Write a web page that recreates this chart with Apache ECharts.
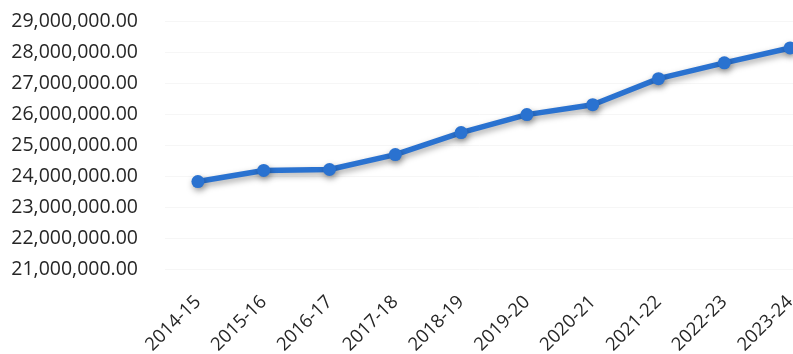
<!DOCTYPE html>
<html><head><meta charset="utf-8">
<script src="https://cdn.jsdelivr.net/npm/echarts@6/dist/echarts.min.js"></script>
<style>html,body{margin:0;padding:0;background:#fff}#c{width:793px;height:354px}</style>
</head><body><div id="c"></div>
<script>
const categories = ['2014-15','2015-16','2016-17','2017-18','2018-19','2019-20','2020-21','2021-22','2022-23','2023-24'];
const values = [23820000, 24180000, 24210000, 24690000, 25400000, 25980000, 26300000, 27140000, 27650000, 28130000];
const yMin = 21000000, yMax = 29000000, yStep = 1000000;

const chart = echarts.init(document.getElementById('c'), null, {renderer:'canvas'});
const fmt = v => v.toLocaleString('en-US', {minimumFractionDigits:2, maximumFractionDigits:2});
chart.setOption({
  animation:false,
  backgroundColor:'#fff',
  grid:{left:165, width:658, top:21, height:248, containLabel:false, outerBoundsMode:'none'},
  xAxis:{type:'category', data:categories, boundaryGap:true,
    axisLine:{show:false}, axisTick:{show:false},
    axisLabel:{rotate:45, margin:30, color:'#262626', fontFamily:'Open Sans', fontSize:18.5, interval:0}},
  yAxis:{type:'value', min:yMin, max:yMax, interval:yStep,
    axisLine:{show:false}, axisTick:{show:false},
    splitLine:{lineStyle:{color:'#f6f6f6'}},
    axisLabel:{formatter:fmt, margin:27, color:'#262626', fontFamily:'Open Sans', fontSize:19.5}},
  series:[{type:'line', data:values, symbol:'circle', symbolSize:13,
    lineStyle:{color:'#2a72d0', width:5.5, shadowColor:'rgba(0,0,0,0.35)', shadowBlur:6, shadowOffsetY:3, shadowOffsetX:1},
    itemStyle:{color:'#2a72d0', shadowColor:'rgba(0,0,0,0.35)', shadowBlur:6, shadowOffsetY:3, shadowOffsetX:1}}]
});
</script></body></html>
